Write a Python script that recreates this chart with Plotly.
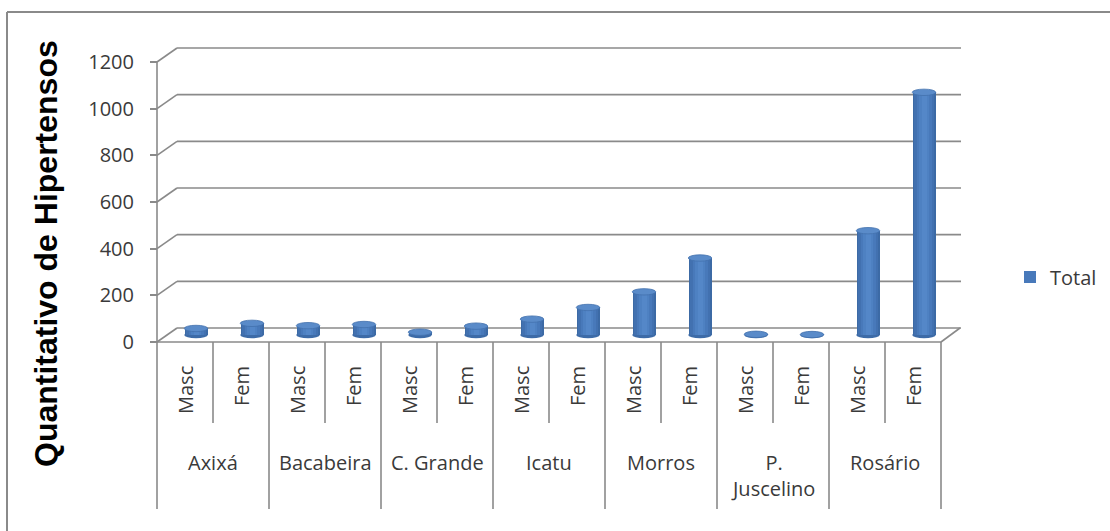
import plotly.graph_objects as go

# Hypertensive patients by municipality and sex
municipios = ["Axixá", "Bacabeira", "C. Grande", "Icatu", "Morros", "P.<br>Juscelino", "Rosário"]
sexos = ["Masc", "Fem"]
masc = [28, 40, 12, 68, 185, 3, 447]
fem = [50, 45, 38, 118, 330, 2, 1040]
y_ticks = [0, 200, 400, 600, 800, 1000, 1200]

valores = []
rotulos = []
for m, f in zip(masc, fem):
    valores += [m, f]
    rotulos += sexos
idx = list(range(len(valores)))
n = len(valores)
YMAX = y_ticks[-1]

W, H = 1110, 531
def X(px):
    return px / W
def Y(py):
    return 1 - py / H

GRID = "#8a8a8a"
TXT = "#3a3a3a"
FONT = "Open Sans"

# front plane (axis) in pixels; back wall and cylinders are offset in depth
FX0, FX1, FY0, FY1 = 157, 941, 342, 62
DX, DY = 20, 14      # back wall offset
BX, BY = 11, 7       # cylinder offset
SX = (FX1 - FX0) / n          # px per category
SY = (FY0 - FY1) / YMAX       # px per unit
PADX, PADY = 0.4, 90          # extra room so edge lines are not clipped

def axis_pair(dx, dy):
    xd = [X(FX0 + dx - PADX * SX), X(FX1 + dx + PADX * SX)]
    yd = [Y(FY0 - dy + PADY * SY), Y(FY1 - dy - PADY * SY)]
    return xd, yd, [-0.5 - PADX, n - 0.5 + PADX], [-PADY, YMAX + PADY]

fx_d, fy_d, xr, yr = axis_pair(0, 0)
bx_d, by_d, _, _ = axis_pair(DX, DY)
cx_d, cy_d, _, _ = axis_pair(BX, BY)

fig = go.Figure()

# cylinder shading: nested bars, darker at the edges
layers = [
    (0.42, "#3c6aa5", False),
    (0.36, "#4271b0", False),
    (0.28, "#4879ba", True),
    (0.18, "#4e81c2", False),
    (0.08, "#5487c8", False),
]
for w, col, leg in layers:
    fig.add_trace(go.Bar(
        x=idx, y=valores, width=w, marker=dict(color=col, line=dict(width=0)),
        xaxis="x3", yaxis="y3", name="Total", showlegend=leg,
        hoverinfo="skip" if not leg else None,
    ))
# the back wall axes carry an empty trace so that they exist
fig.add_trace(go.Scatter(x=[None], y=[None], xaxis="x2", yaxis="y2", showlegend=False, hoverinfo="skip"))

shapes = []
LINE = dict(color=GRID, width=1.6)

# back wall gridlines
for t in y_ticks:
    shapes.append(dict(type="line", xref="x2", yref="y2", x0=-0.5, x1=n - 0.5, y0=t, y1=t,
                       line=LINE, layer="below"))

# front floor edge and value axis line
shapes.append(dict(type="line", xref="x", yref="y", x0=-0.5, x1=n - 0.5, y0=0, y1=0, line=LINE))
shapes.append(dict(type="line", xref="x", yref="y", x0=-0.5, x1=-0.5, y0=0, y1=YMAX, line=LINE))

# diagonals joining the front axis ticks to the back wall gridlines
for t in y_ticks:
    shapes.append(dict(type="line", xref="x", yref="y", xsizemode="pixel", ysizemode="pixel",
                       xanchor=-0.5, yanchor=t, x0=0, x1=DX, y0=0, y1=DY, line=LINE))
# right edge of the floor
shapes.append(dict(type="line", xref="x", yref="y", xsizemode="pixel", ysizemode="pixel",
                   xanchor=n - 0.5, yanchor=0, x0=0, x1=DX - 1, y0=0, y1=DY, line=LINE))

# category dividers below the floor
for k in range(n + 1):
    bottom = 509 if k % 2 == 0 else 423
    shapes.append(dict(type="line", xref="x", yref="paper",
                       x0=k - 0.5, x1=k - 0.5, y0=Y(FY0), y1=Y(bottom), line=LINE))

half = 0.42 * SX / 2
for i, v in enumerate(valores):
    # base and top ellipses of each cylinder
    shapes.append(dict(type="circle", xref="x3", yref="y3", xsizemode="pixel", ysizemode="pixel",
                       xanchor=i, yanchor=0, x0=-half, x1=half, y0=-3.2, y1=3.2,
                       fillcolor="#3d6ba7", line=dict(width=0), layer="between"))
    shapes.append(dict(type="circle", xref="x3", yref="y3", xsizemode="pixel", ysizemode="pixel",
                       xanchor=i, yanchor=v, x0=-half, x1=half, y0=-3.2, y1=3.2,
                       fillcolor="#5a8bc9", line=dict(width=0.8, color="#4371ad"), layer="above"))

# outer frame
shapes.append(dict(type="line", xref="paper", yref="paper", x0=X(7), x1=X(7), y0=Y(12), y1=-0.02,
                   line=dict(color=GRID, width=2)))
shapes.append(dict(type="line", xref="paper", yref="paper", x0=X(7), x1=1.02, y0=Y(12), y1=Y(12),
                   line=dict(color=GRID, width=2)))

annotations = []
for i, r in enumerate(rotulos):
    annotations.append(dict(x=i, y=Y(364), xref="x", yref="paper", text=r, textangle=-90,
                            showarrow=False, yanchor="top", xanchor="center",
                            font=dict(family=FONT, size=20, color=TXT)))
for g, nome in enumerate(municipios):
    annotations.append(dict(x=2 * g + 0.5, y=Y(447), xref="x", yref="paper", text=nome,
                            showarrow=False, yanchor="top", xanchor="center",
                            font=dict(family=FONT, size=20, color=TXT)))
annotations.append(dict(x=X(26), y=Y(254), xref="paper", yref="paper",
                        text="<b>Quantitativo de Hipertensos</b>", textangle=-90, showarrow=False,
                        font=dict(family="Liberation Sans, Arial", size=32, color="#000000")))

hidden = dict(visible=False, automargin=False, showgrid=False, zeroline=False)
fig.update_layout(
    width=W, height=H, autosize=False,
    margin=dict(l=0, r=0, t=0, b=0, pad=0, autoexpand=False),
    paper_bgcolor="white", plot_bgcolor="rgba(0,0,0,0)",
    barmode="overlay", bargap=0,
    xaxis=dict(domain=fx_d, range=xr, anchor="y", **hidden),
    yaxis=dict(domain=fy_d, range=yr, anchor="free", position=X(FX0), tickvals=y_ticks,
               showline=False, ticks="outside", ticklen=7, tickcolor=GRID, tickwidth=1.6,
               showgrid=False, zeroline=False, automargin=False,
               tickfont=dict(family=FONT, size=20, color=TXT), ticklabelstandoff=12),
    xaxis2=dict(domain=bx_d, range=xr, anchor="y2", **hidden),
    yaxis2=dict(domain=by_d, range=yr, anchor="x2", **hidden),
    xaxis3=dict(domain=cx_d, range=xr, anchor="y3", **hidden),
    yaxis3=dict(domain=cy_d, range=yr, anchor="x3", **hidden),
    shapes=shapes,
    annotations=annotations,
    legend=dict(x=X(1010), y=Y(277), xanchor="left", yanchor="middle",
                font=dict(family=FONT, size=20, color=TXT), bgcolor="rgba(0,0,0,0)"),
)

fig.write_html("out.html")
